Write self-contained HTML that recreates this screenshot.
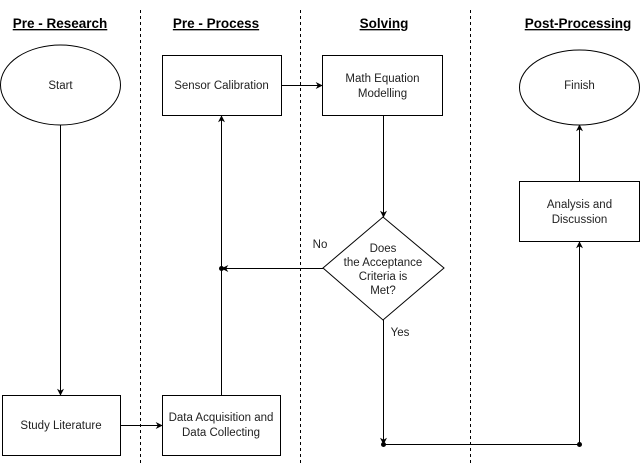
<!DOCTYPE html><html><head><style>body{margin:0;background:#fff}</style></head><body>
<svg width="641" height="466" xmlns="http://www.w3.org/2000/svg" font-family="Liberation Sans, sans-serif" font-size="11.5">
<defs><marker id="a" viewBox="0 0 10 10" refX="9" refY="5" markerWidth="7" markerHeight="7" orient="auto"><path d="M0,0 L10,5 L0,10 L3,5 z" fill="#000"/></marker></defs>
<g stroke="#000" stroke-dasharray="3,3" stroke-width="1"><line x1="140.5" y1="10" x2="140.5" y2="466"/><line x1="300.5" y1="10" x2="300.5" y2="466"/><line x1="470.5" y1="10" x2="470.5" y2="466"/></g>
<g font-weight="bold" font-size="13.5" text-anchor="middle" text-decoration="underline">
<text x="60" y="28">Pre - Research</text><text x="216" y="28">Pre - Process</text><text x="384" y="28">Solving</text><text x="578" y="28">Post-Processing</text></g>
<g fill="#fff" stroke="#000">
<ellipse cx="60.5" cy="85" rx="60" ry="40"/>
<ellipse cx="579.5" cy="87.5" rx="60" ry="37.5"/>
<rect x="162.5" y="55.5" width="119" height="60"/>
<rect x="322.5" y="55.5" width="120" height="60"/>
<rect x="519.5" y="181.5" width="120" height="60"/>
<rect x="2.5" y="395.5" width="118" height="60"/>
<rect x="162.5" y="395.5" width="118" height="60"/>
<polygon points="323,268 383,217 444,268 383,320"/>
</g>
<g stroke="#000" fill="none">
<line x1="60.5" y1="125" x2="60.5" y2="395" marker-end="url(#a)"/>
<line x1="120" y1="425.5" x2="162" y2="425.5" marker-end="url(#a)"/>
<line x1="221.5" y1="395" x2="221.5" y2="116" marker-end="url(#a)"/>
<line x1="282" y1="85.5" x2="322" y2="85.5" marker-end="url(#a)"/>
<line x1="383.5" y1="116" x2="383.5" y2="217" marker-end="url(#a)"/>
<line x1="323" y1="268.5" x2="222" y2="268.5" marker-end="url(#a)"/>
<line x1="383.5" y1="320" x2="383.5" y2="444" marker-end="url(#a)"/>
<line x1="383.5" y1="444.5" x2="579.5" y2="444.5"/>
<line x1="579.5" y1="444" x2="579.5" y2="242" marker-end="url(#a)"/>
<line x1="579.5" y1="181" x2="579.5" y2="125" marker-end="url(#a)"/>
</g>
<g fill="#000"><circle cx="221.5" cy="268.5" r="2.5"/><circle cx="383.5" cy="444.5" r="2.5"/><circle cx="579.5" cy="444.5" r="2.5"/></g>
<g text-anchor="middle" fill="#222">
<text x="60.5" y="89">Start</text><text x="579.5" y="89">Finish</text>
<text x="221.5" y="89">Sensor Calibration</text>
<text x="382.5" y="82">Math Equation</text><text x="382.5" y="97">Modelling</text>
<text x="579.5" y="208">Analysis and</text><text x="579.5" y="223">Discussion</text>
<text x="61" y="429">Study Literature</text>
<text x="221" y="421">Data Acquisition and</text><text x="221" y="436">Data Collecting</text>
<text x="383" y="252">Does</text><text x="383" y="266">the Acceptance</text><text x="383" y="280">Criteria is</text><text x="383" y="294">Met?</text>
<text x="320" y="248">No</text><text x="400" y="336">Yes</text>
</g>
</svg></body></html>
